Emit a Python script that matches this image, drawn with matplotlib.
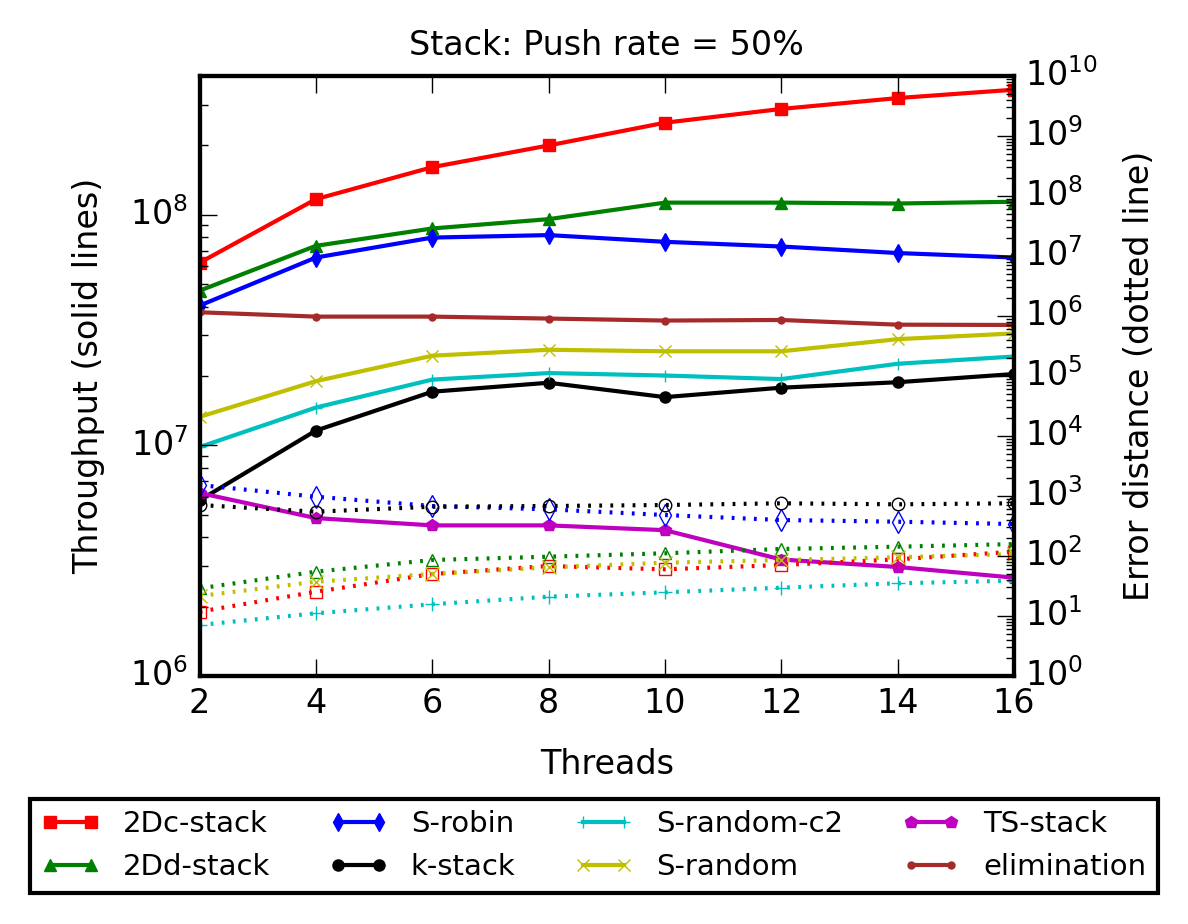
import matplotlib

matplotlib.use("Agg")
import matplotlib.pyplot as plt
import matplotlib.ticker as ticker
import numpy as np

# Data
threads = [2, 4, 6, 8, 10, 12, 14, 16]

# throughput (left axis, solid lines)
tp_2dc = [6.2e7, 1.17e8, 1.61e8, 2.0e8, 2.51e8, 2.88e8, 3.21e8, 3.49e8]
tp_2dd = [4.69e7, 7.34e7, 8.73e7, 9.58e7, 1.13e8, 1.13e8, 1.12e8, 1.14e8]
tp_srobin = [4.04e7, 6.53e7, 7.97e7, 8.17e7, 7.64e7, 7.29e7, 6.83e7, 6.53e7]
tp_kstack = [5.78e6, 1.16e7, 1.71e7, 1.87e7, 1.62e7, 1.78e7, 1.88e7, 2.04e7]
tp_srandc2 = [9.84e6, 1.46e7, 1.93e7, 2.06e7, 2.01e7, 1.94e7, 2.26e7, 2.43e7]
tp_srand = [1.33e7, 1.90e7, 2.45e7, 2.60e7, 2.56e7, 2.56e7, 2.89e7, 3.06e7]
tp_ts = [6.22e6, 4.84e6, 4.50e6, 4.50e6, 4.29e6, 3.20e6, 2.97e6, 2.67e6]
tp_elim = [3.78e7, 3.62e7, 3.62e7, 3.55e7, 3.48e7, 3.50e7, 3.34e7, 3.33e7]

# error distance (right axis, dotted lines)
err_2dc = [11.8, 25.4, 50.1, 68.1, 60.0, 70.8, 88.0, 118.0]
err_2dd = [28.9, 54.8, 85.8, 97.4, 111.0, 131.0, 143.0, 158.0]
err_srobin = [1525, 973, 681, 600, 482, 398, 373, 341]
err_kstack = [708, 548, 663, 681, 708, 756, 727, 756]
err_srandc2 = [7.08, 11.1, 15.7, 21.0, 24.8, 29.6, 35.1, 38.8]
err_srand = [21.5, 37.3, 50.1, 64.7, 77.4, 85.8, 95.1, 108.0]

labels = ["2Dc-stack", "2Dd-stack", "S-robin", "k-stack",
          "S-random-c2", "S-random", "TS-stack", "elimination"]

plt.style.use("classic")
plt.rcParams["figure.facecolor"] = "white"
plt.rcParams["font.size"] = 12
plt.rcParams["xtick.major.size"] = 6
plt.rcParams["ytick.major.size"] = 6
plt.rcParams["xtick.minor.size"] = 3
plt.rcParams["ytick.minor.size"] = 3

fig = plt.figure(figsize=(5.94, 4.62), dpi=200)
ax = fig.add_axes([0.168, 0.2684, 0.6855, 0.6493])
ax2 = ax.twinx()

lw = 1.5

solid = [
    (tp_2dc, "r", "s", 4),
    (tp_2dd, "g", "^", 4),
    (tp_srobin, "b", "d", 4.5),
    (tp_kstack, "k", "o", 4),
    (tp_srandc2, "c", "+", 4),
    (tp_srand, "y", "x", 4),
    (tp_ts, "m", "p", 4.5),
    (tp_elim, "#A52A2A", ".", 5),
]
handles = []
for (vals, col, mk, size), lab in zip(solid, labels):
    (h,) = ax.plot(threads, vals, color=col, marker=mk, markersize=size,
                   markeredgecolor=col, linewidth=lw, label=lab)
    handles.append(h)

dotted = [
    (err_2dc, "r", "s", 4.5),
    (err_2dd, "g", "^", 4.5),
    (err_srobin, "b", "d", 5.5),
    (err_kstack, "k", "o", 4.5),
    (err_srandc2, "c", "+", 5),
    (err_srand, "y", "x", 5),
]
for vals, col, mk, size in dotted:
    ax2.plot(threads, vals, color=col, linestyle=":", marker=mk,
             markersize=size, markerfacecolor="none", markeredgecolor=col,
             linewidth=lw)

ax.set_yscale("log")
ax2.set_yscale("log")
ax.set_xlim(2, 16)
ax.set_ylim(1e6, 4e8)
ax2.set_ylim(1, 1e10)
ax.set_xticks(threads)

for a in (ax, ax2):
    a.yaxis.set_major_locator(ticker.LogLocator(base=10, numticks=20))
    a.yaxis.set_minor_locator(ticker.LogLocator(base=10, subs=np.arange(2, 10), numticks=100))
    a.yaxis.set_minor_formatter(ticker.NullFormatter())
    for s in a.spines.values():
        s.set_linewidth(1.5)

ax.set_xlabel("Threads", labelpad=10)
ax.set_ylabel("Throughput (solid lines)", labelpad=9)
ax2.set_ylabel("Error distance (dotted line)", labelpad=9)
ax.set_title("Stack: Push rate = 50%", fontsize=12, pad=7.5)

leg = fig.legend(handles=handles, labels=labels, ncol=4, loc="lower left",
                 bbox_to_anchor=(0.025, 0.034, 0.95, 0.102), mode="expand",
                 fontsize=10.5, numpoints=2, markerscale=1.0, handlelength=2,
                 borderaxespad=0.0)
leg.get_frame().set_linewidth(1.5)

fig.savefig("out.png", dpi=200)
